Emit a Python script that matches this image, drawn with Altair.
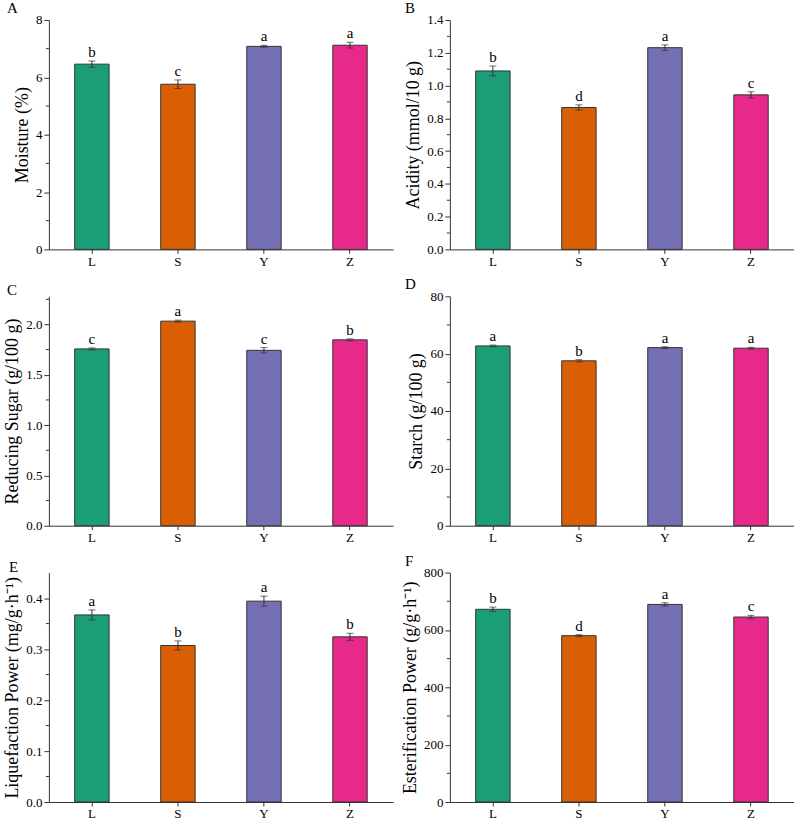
import altair as alt
import pandas as pd

groups = ["L", "S", "Y", "Z"]
colors = ["#1b9e77", "#d95f02", "#7570b3", "#e7298a"]

moisture = [6.46, 5.76, 7.08, 7.12]
moisture_err = [0.11, 0.15, 0.035, 0.10]
moisture_sig = ["b", "c", "a", "a"]

acidity = [1.089, 0.866, 1.231, 0.943]
acidity_err = [0.030, 0.016, 0.017, 0.019]
acidity_sig = ["b", "d", "a", "c"]

sugar = [1.757, 2.033, 1.743, 1.847]
sugar_err = [0.010, 0.010, 0.027, 0.010]
sugar_sig = ["c", "a", "c", "b"]

starch = [62.7, 57.5, 62.1, 61.9]
starch_err = [0.3, 0.4, 0.3, 0.3]
starch_sig = ["a", "b", "a", "a"]

liquefaction = [0.367, 0.307, 0.394, 0.324]
liquefaction_err = [0.0098, 0.009, 0.0098, 0.007]
liquefaction_sig = ["a", "b", "a", "b"]

esterification = [672, 580, 689, 645]
esterification_err = [7.5, 3.5, 5.8, 5.8]
esterification_sig = ["b", "d", "a", "c"]

FONT = "Liberation Serif"
AX = "#333333"


def panel(tag, dx, ytitle, vals, errs, sig, ymax, major, minor, fmt):
    df = pd.DataFrame({"group": groups, "value": vals, "err": errs, "sig": sig})
    df["lo"] = df["value"] - df["err"]
    df["hi"] = df["value"] + df["err"]
    yscale = alt.Scale(domain=[0, ymax], nice=False, zero=True)
    yaxis = alt.Axis(
        title=ytitle, values=major, format=fmt, grid=False, tickSize=5,
        tickColor=AX, domainColor=AX, labelColor="black", titleColor="black",
        labelFont=FONT, labelFontSize=13, titleFont=FONT, titleFontSize=18,
        titleFontWeight="normal", titlePadding=4, labelPadding=2,
    )
    xenc = alt.X(
        "group:N", sort=groups,
        scale=alt.Scale(domain=groups, paddingInner=0.6, paddingOuter=0.3),
        axis=alt.Axis(title=None, labelAngle=0, tickSize=4, tickColor=AX,
                      domainColor=AX, labelColor="black", labelFont=FONT,
                      labelFontSize=13, labelPadding=2, grid=False),
    )

    def yenc(field):
        return alt.Y(field, type="quantitative", scale=yscale, axis=yaxis)

    base = alt.Chart(df)
    bars = base.mark_bar(stroke=AX, strokeWidth=1).encode(
        x=xenc, y=yenc("value"),
        color=alt.Color("group:N", scale=alt.Scale(domain=groups, range=colors), legend=None),
    )
    stem = base.mark_rule(color=AX, strokeWidth=1).encode(
        x=xenc, y=yenc("lo"), y2="hi"
    )
    cap_lo = base.mark_tick(color=AX, size=7, thickness=1).encode(x=xenc, y=yenc("lo"))
    cap_hi = base.mark_tick(color=AX, size=7, thickness=1).encode(x=xenc, y=yenc("hi"))
    letters = base.mark_text(baseline="bottom", dy=-1, fontSize=15, font=FONT, color="black").encode(
        x=xenc, y=yenc("hi"), text="sig:N"
    )
    mdf = pd.DataFrame({"value": minor})
    minor_ticks = alt.Chart(mdf).mark_rule(color=AX, strokeWidth=1).encode(
        y=yenc("value"), x=alt.value(0), x2=alt.value(-3)
    )
    return alt.layer(bars, stem, cap_lo, cap_hi, letters, minor_ticks).properties(
        width=345, height=230,
        title=alt.TitleParams(tag, anchor="start", frame="group", dx=dx, fontSize=15,
                              font=FONT, fontWeight="normal", color="black", offset=-2),
    )


pA = panel("A", -42, "Moisture (%)", moisture, moisture_err, moisture_sig, 8,
           [0, 2, 4, 6, 8], [1, 3, 5, 7], "d")
pB = panel("B", -45, "Acidity (mmol/10 g)", acidity, acidity_err, acidity_sig, 1.4,
           [0, 0.2, 0.4, 0.6, 0.8, 1.0, 1.2, 1.4], [0.1, 0.3, 0.5, 0.7, 0.9, 1.1, 1.3], ".1f")
pC = panel("C", -42, "Reducing Sugar (g/100 g)", sugar, sugar_err, sugar_sig, 2.28,
           [0, 0.5, 1.0, 1.5, 2.0], [0.25, 0.75, 1.25, 1.75, 2.25], ".1f")
pD = panel("D", -45, "Starch (g/100 g)", starch, starch_err, starch_sig, 80,
           [0, 20, 40, 60, 80], [10, 30, 50, 70], "d")
pE = panel("E", -40, "Liquefaction Power (mg/g·h⁻¹)", liquefaction, liquefaction_err,
           liquefaction_sig, 0.45, [0, 0.1, 0.2, 0.3, 0.4], [0.05, 0.15, 0.25, 0.35], ".1f")
pF = panel("F", -45, "Esterification Power (g/g·h⁻¹)", esterification, esterification_err,
           esterification_sig, 800, [0, 200, 400, 600, 800], [100, 300, 500, 700], "d")

chart = alt.concat(
    pA, pB, pC, pD, pE, pF, columns=2,
    spacing={"row": 47, "column": 57}, bounds="flush",
).properties(
    padding={"left": 3, "top": 0, "right": 0, "bottom": 0},
    background="white",
).configure_view(stroke=None)

chart.save("out.html", embed_options={"renderer": "svg", "actions": False})
